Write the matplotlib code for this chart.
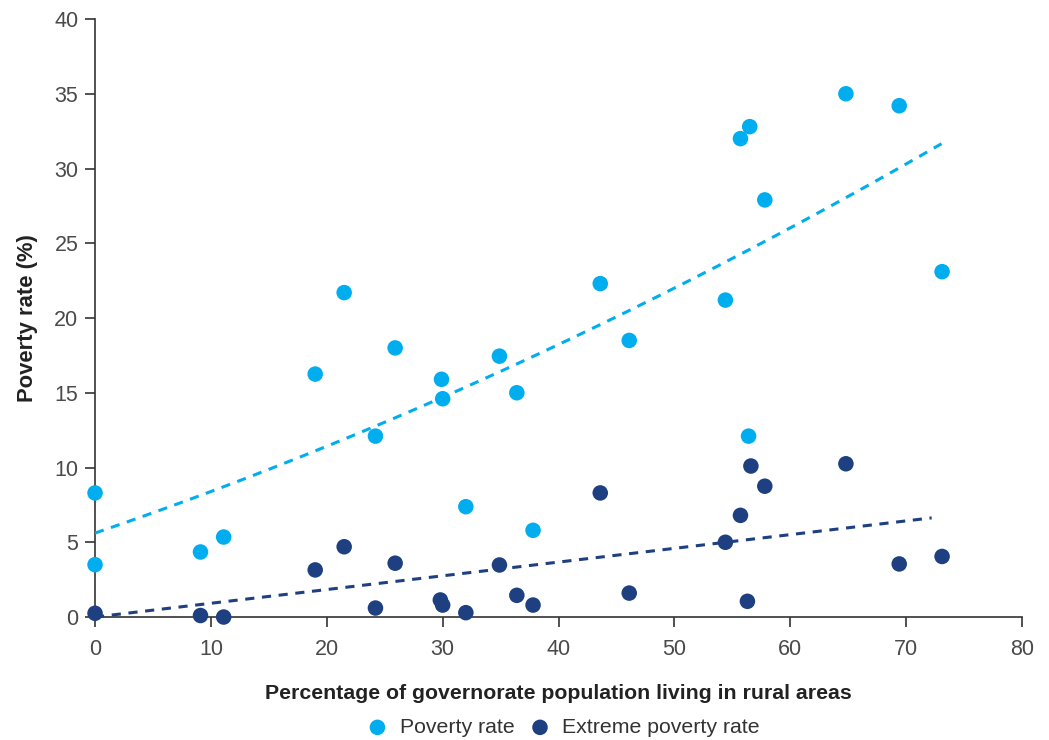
import matplotlib
matplotlib.use("Agg")
import matplotlib.pyplot as plt
import numpy as np

plt.rcParams["font.family"] = ["Liberation Sans", "DejaVu Sans"]

# share of governorate population living in rural areas (%)
rural = [0, 0, 9.1, 11.1, 19.0, 21.5, 24.2, 25.9, 29.9, 30.0, 32.0, 34.9, 36.4,
         37.8, 43.6, 46.1, 54.4, 55.7, 56.5, 56.4, 57.8, 64.8, 69.4, 73.1]
poverty = [8.3, 3.5, 4.35, 5.35, 16.25, 21.7, 12.1, 18.0, 15.9, 14.6, 7.38, 17.45, 15.0,
           5.8, 22.3, 18.5, 21.2, 32.0, 32.8, 12.1, 27.9, 35.0, 34.2, 23.1]

rural_ext = [0, 9.1, 11.1, 19.0, 21.5, 24.2, 25.9, 29.8, 30.0, 32.0, 34.9, 36.4,
             37.8, 43.6, 46.1, 54.4, 55.7, 56.6, 56.3, 57.8, 64.8, 69.4, 73.1]
extreme = [0.25, 0.1, 0.0, 3.15, 4.7, 0.6, 3.6, 1.14, 0.8, 0.29, 3.48, 1.45,
           0.8, 8.3, 1.6, 5.0, 6.8, 10.1, 1.05, 8.75, 10.25, 3.55, 4.05]

light = "#00aeef"
navy = "#1e4080"
tick_col = "#4a4a4a"

fig = plt.figure(figsize=(10.49, 7.40), dpi=100)
ax = fig.add_axes([0.0906, 0.1662, 0.8837, 0.8081])

ax.scatter(rural, poverty, s=125, color=light, edgecolors="none", zorder=3,
           clip_on=False, label="Poverty rate")
ax.scatter(rural_ext, extreme, s=125, color=navy, edgecolors="none", zorder=3,
           clip_on=False, label="Extreme poverty rate")

# trend lines fitted to the data
xs = np.linspace(0, 73.05, 200)
c1 = np.polyfit(rural, poverty, 2)
ax.plot(xs, np.polyval(c1, xs), color=light, lw=2.2, ls=(0, (3, 2.5)), zorder=2)

# extreme poverty: linear fit through the origin
xe = np.array(rural_ext)
ye = np.array(extreme)
slope = (xe * ye).sum() / (xe * xe).sum()
xs2 = np.linspace(0, 72.2, 200)
ax.plot(xs2, slope * xs2, color=navy, lw=2.2, ls=(0, (3, 2.5)), zorder=2,
        clip_on=False)

ax.set_xlim(0, 80)
ax.set_ylim(0, 40)
ax.set_xticks(range(0, 81, 10))
ax.set_yticks(range(0, 41, 5))
for s in ["top", "right"]:
    ax.spines[s].set_visible(False)
for s in ["left", "bottom"]:
    ax.spines[s].set_color("#333333")
    ax.spines[s].set_linewidth(1.2)
    ax.spines[s].set_zorder(1)
ax.tick_params(direction="out", length=7, width=1.2, color="#333333",
               labelsize=15.5, labelcolor=tick_col)
ax.tick_params(axis="x", pad=9)
ax.tick_params(axis="y", pad=5)

ax.set_xlabel("Percentage of governorate population living in rural areas",
              fontsize=15.3, fontweight="bold", color="#222222", labelpad=17)
ax.set_ylabel("Poverty rate (%)", fontsize=15.8, fontweight="bold", color="#222222")
ax.yaxis.set_label_coords(-0.0615, 0.5)

leg = fig.legend(loc="center", bbox_to_anchor=(0.532, 0.017), ncol=2, frameon=False,
                 fontsize=15.3, handletextpad=0.05, columnspacing=0.2, markerscale=1.0)
for t in leg.get_texts():
    t.set_color("#333333")

fig.savefig("out.png", dpi=100)
